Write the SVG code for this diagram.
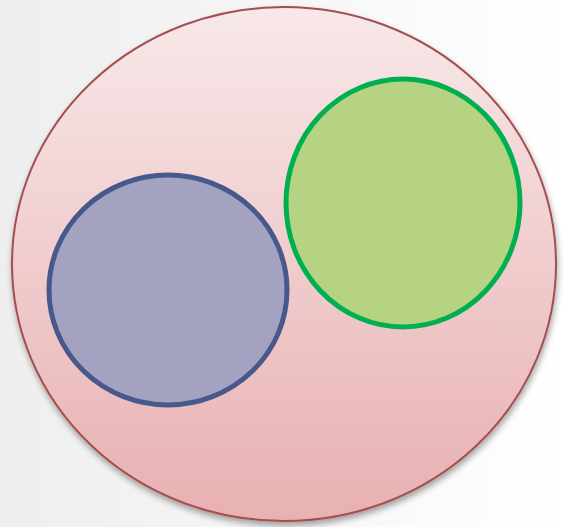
<svg xmlns="http://www.w3.org/2000/svg" width="564" height="527" viewBox="0 0 564 527">
<defs>
<linearGradient id="bg" x1="0" y1="0" x2="1" y2="0">
<stop offset="0" stop-color="#eeeeee"/>
<stop offset="0.5" stop-color="#f6f6f6"/>
<stop offset="1" stop-color="#ffffff"/>
</linearGradient>
<linearGradient id="outerFill" x1="0" y1="0" x2="0" y2="1">
<stop offset="0" stop-color="#f8e8e9"/>
<stop offset="1" stop-color="#e8b0b1"/>
</linearGradient>
<filter id="sh" x="-10%" y="-10%" width="120%" height="120%">
<feGaussianBlur in="SourceAlpha" stdDeviation="3"/>
<feOffset dx="1" dy="4" result="b"/>
<feComponentTransfer><feFuncA type="linear" slope="0.35"/></feComponentTransfer>
<feMerge><feMergeNode/><feMergeNode in="SourceGraphic"/></feMerge>
</filter>
<style>
.outer{fill:url(#outerFill);stroke:#a34f50;stroke-width:2}
.blue{fill:#a4a2c1;stroke:#47598a;stroke-width:5}
.green{fill:#b5d383;stroke:#00b050;stroke-width:5}
</style>
</defs>
<rect width="564" height="527" fill="url(#bg)"/>
<g id="outer"><ellipse class="outer" cx="284" cy="264" rx="272" ry="257" filter="url(#sh)"/></g>
<g id="blue"><ellipse class="blue" cx="168" cy="290" rx="119" ry="115"/></g>
<g id="green"><ellipse class="green" cx="403" cy="203" rx="117" ry="124"/></g>
<g id="connectors"/>
</svg>
